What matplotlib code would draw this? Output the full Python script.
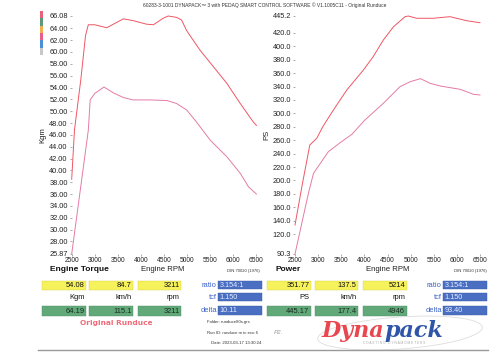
import matplotlib
matplotlib.use("Agg")
import matplotlib.pyplot as plt
from matplotlib.patches import Rectangle, Ellipse

plt.rcParams['font.family'] = ['Liberation Sans', 'DejaVu Sans']

# ---------------- data ----------------
rpm_ticks = [2500, 3000, 3500, 4000, 4500, 5000, 5500, 6000, 6500]

torque_hi_rpm = [2500, 2560, 2700, 2800, 2860, 3000, 3100, 3260, 3450, 3620, 3830, 4120, 4270,
                 4480, 4590, 4770, 4880, 4990, 5130, 5280, 5570, 5860, 6150, 6430, 6500]
torque_hi = [38.5, 46.8, 55.5, 62.8, 64.6, 64.6, 64.4, 64.1, 64.9, 65.6, 65.3, 64.7, 64.6,
             65.7, 66.08, 65.85, 65.4, 63.6, 62.0, 60.3, 57.5, 54.7, 51.3, 48.2, 47.6]

torque_lo_rpm = [2500, 2700, 2860, 2900, 3000, 3200, 3400, 3620, 3830, 4200, 4560, 4770, 4990,
                 5200, 5500, 5860, 6150, 6330, 6500]
torque_lo = [25.87, 37.5, 46.8, 51.9, 53.0, 54.08, 53.1, 52.3, 51.9, 51.9, 51.8, 51.3, 50.2,
             48.2, 45.1, 42.3, 39.5, 37.2, 36.0]

power_hi_rpm = [2500, 2660, 2820, 2970, 3100, 3330, 3620, 3980, 4190, 4410, 4630, 4880, 4950,
                5130, 5490, 5850, 6210, 6500]
power_hi = [133.5, 195.0, 252.8, 262.8, 280.0, 305.0, 334.9, 364.7, 384.5, 409.4, 429.2, 444.2,
            445.2, 441.8, 441.8, 444.2, 438.2, 435.2]

power_lo_rpm = [2500, 2790, 2900, 3220, 3470, 3730, 4010, 4410, 4770, 4990, 5214, 5420, 5640,
                6070, 6360, 6500]
power_lo = [90.3, 180.8, 210.6, 242.8, 256.0, 268.8, 290.0, 315.0, 339.8, 347.2, 351.77, 344.8,
            340.8, 335.9, 328.4, 327.4]

torque_yticks = [25.87, 28, 30, 32, 34, 36, 38, 40, 42, 44, 46, 48, 50, 52, 54, 56, 58, 60, 62, 64, 66.08]
power_yticks = [90.3, 120, 140, 160, 180, 200, 220, 240, 260, 280, 300, 320, 340, 360, 380, 400, 420, 445.2]

torque_box_yellow = ["54.08", "84.7", "3211"]
torque_box_green = ["64.19", "115.1", "3211"]
power_box_yellow = ["351.77", "137.5", "5214"]
power_box_green = ["445.17", "177.4", "4946"]
box_units_torque = ["Kgm", "km/h", "rpm"]
box_units_power = ["PS", "km/h", "rpm"]
info_labels = ["ratio", "tcf", "delta"]
info_torque = ["3.154:1", "1.150", "10.11"]
info_power = ["3.154:1", "1.150", "93.40"]

header = "60283-3-1001 DYNAPACK\u2122 3 with PEDAQ SMART CONTROL SOFTWARE \u00a9 V1.1005C11 - Original Runduce"

HI = '#ef5664'
LO = '#e47ba6'
YEL = '#f6f25c'
GRN = '#62a97a'
BLU = '#4a6fc2'
LBL = '#3d63c8'

W, H = 500, 354
fig = plt.figure(figsize=(5, 3.54), dpi=100)


def fx(px):
    return px / W


def fy(py):
    return 1 - py / H


def make_axes(x0, x1, y0, y1):
    ax = fig.add_axes([fx(x0), fy(y1), fx(x1) - fx(x0), fy(y0) - fy(y1)])
    for s in ax.spines.values():
        s.set_visible(False)
    ax.patch.set_alpha(0)
    ax.tick_params(axis='both', length=1.6, width=0.5, color='#888888', labelcolor='#222222')
    ax.tick_params(axis='y', labelsize=5.3, pad=1.2)
    ax.tick_params(axis='x', labelsize=4.8, pad=0.6)
    return ax


# torque axes
ax1 = make_axes(71.7, 256.4, 16, 254)
ax1.plot(torque_hi_rpm, torque_hi, color=HI, lw=0.7, clip_on=False)
ax1.plot(torque_lo_rpm, torque_lo, color=LO, lw=0.7, clip_on=False)
ax1.set_xlim(2500, 6500)
ax1.set_ylim(25.87, 66.08)
ax1.set_xticks(rpm_ticks)
ax1.set_xticklabels([str(v) for v in rpm_ticks])
ax1.set_yticks(torque_yticks)
ax1.set_yticklabels(['%.2f' % v for v in torque_yticks])
ax1.set_ylabel('Kgm', fontsize=5.5, color='#222222')
ax1.yaxis.set_label_coords(-0.135, 0.5)

# power axes
ax2 = make_axes(295, 480, 16, 254)
ax2.plot(power_hi_rpm, power_hi, color=HI, lw=0.7, clip_on=False)
ax2.plot(power_lo_rpm, power_lo, color=LO, lw=0.7, clip_on=False)
ax2.set_xlim(2500, 6500)
ax2.set_ylim(90.3, 445.2)
ax2.set_xticks(rpm_ticks)
ax2.set_xticklabels([str(v) for v in rpm_ticks])
ax2.set_yticks(power_yticks)
ax2.set_yticklabels(['%.1f' % v for v in power_yticks])
ax2.set_ylabel('PS', fontsize=5.5, color='#222222')
ax2.yaxis.set_label_coords(-0.135, 0.5)

# overlay in pixel coordinates
ov = fig.add_axes([0, 0, 1, 1])
ov.set_xlim(0, W)
ov.set_ylim(H, 0)
ov.axis('off')
ov.patch.set_alpha(0)

ov.text(265, 5.5, header, fontsize=3.5, ha='center', va='center', color='#333333')

# colour strip
strip_colors = ['#e8607a', '#5a9a78', '#f0b050', '#e8608a', '#4a90d8', '#c8c8c8']
seg = (55 - 11) / len(strip_colors)
for i, c in enumerate(strip_colors):
    ov.add_patch(Rectangle((40, 11 + i * seg), 2.6, seg, color=c, lw=0))

# titles under charts
ov.text(50, 269.5, 'Engine Torque', fontsize=6, fontweight='bold', ha='left', va='center', color='#111111')
ov.text(162.5, 269.5, 'Engine RPM', fontsize=5.6, ha='center', va='center', color='#222222')
ov.text(243.5, 271, 'DIN 70020 (1976)', fontsize=3.0, ha='center', va='center', color='#333333')
ov.text(275, 269.5, 'Power', fontsize=6, fontweight='bold', ha='left', va='center', color='#111111')
ov.text(388, 269.5, 'Engine RPM', fontsize=5.6, ha='center', va='center', color='#222222')
ov.text(470, 271, 'DIN 70020 (1976)', fontsize=3.0, ha='center', va='center', color='#333333')

row_y = [(281, 290), (306, 315.5)]
units_y = 297.5


def value_boxes(xs, yellow, green, units):
    for (x0, x1), yv, gv, u in zip(xs, yellow, green, units):
        ov.add_patch(Rectangle((x0, row_y[0][0]), x1 - x0, row_y[0][1] - row_y[0][0],
                               facecolor=YEL, edgecolor='#d8d040', lw=0.3))
        ov.text(x1 - 1.5, (row_y[0][0] + row_y[0][1]) / 2 + 0.3, yv, fontsize=5.4,
                ha='right', va='center', color='#111111')
        ov.add_patch(Rectangle((x0, row_y[1][0]), x1 - x0, row_y[1][1] - row_y[1][0],
                               facecolor=GRN, edgecolor='#4f9066', lw=0.3))
        ov.text(x1 - 1.5, (row_y[1][0] + row_y[1][1]) / 2 + 0.3, gv, fontsize=5.4,
                ha='right', va='center', color='#1a2a1e')
        ov.text(x1 - 1.5, units_y, u, fontsize=5.4, ha='right', va='center', color='#111111')


value_boxes([(41.7, 86), (89.3, 133.3), (137.7, 181)], torque_box_yellow, torque_box_green, box_units_torque)
value_boxes([(267.3, 311), (315, 358.3), (363.3, 406.7)], power_box_yellow, power_box_green, box_units_power)

info_rows = [(281, 289), (293.3, 301.3), (306.3, 314.5)]


def info_boxes(x0, x1, values):
    for (y0, y1), lab, v in zip(info_rows, info_labels, values):
        ov.add_patch(Rectangle((x0, y0), x1 - x0, y1 - y0, facecolor=BLU, edgecolor='#3558a8', lw=0.3))
        ov.text(x0 - 1.5, (y0 + y1) / 2 + 0.3, lab, fontsize=5.4, ha='right', va='center', color=LBL)
        ov.text(x0 + 1.2, (y0 + y1) / 2 + 0.3, v, fontsize=5.2, ha='left', va='center', color='#e4ecff')


info_boxes(218.3, 261.7, info_torque)
info_boxes(443.3, 487.3, info_power)

# run information
ov.text(116.5, 322.8, 'Original Runduce', fontsize=5.3, fontweight='bold', ha='center', va='center',
        color='#f06a78', family=['DejaVu Sans'])
ov.text(207, 322.5, 'Folder: runduce80s.grs', fontsize=3.1, ha='left', va='center', color='#333333')
ov.text(207, 332.5, 'Run ID: runduce m tc ecu 6', fontsize=3.1, ha='left', va='center', color='#333333')
ov.text(211, 343, 'Date: 2023-03-17 13:30:24', fontsize=3.1, ha='left', va='center', color='#333333')
ov.text(278, 332, 'P2.', fontsize=4.5, ha='center', va='center', color='#999999', style='italic')

# logo
ov.add_patch(Ellipse((400, 333), 165, 32, angle=-4, fill=False, edgecolor='#dddddd', lw=0.6))
t1 = ov.text(322, 337.5, 'Dyna', fontsize=16, fontweight='bold', style='italic', ha='left',
             va='baseline', color='#e8474f', family=['DejaVu Serif'])
ov.annotate('pack', xy=(1, 0), xycoords=t1, fontsize=16, fontweight='bold', style='italic',
            ha='left', va='bottom', color='#2f55a8', family=['DejaVu Serif'])
ov.text(394, 343.5, 'C O A S T I N G   D Y N A M O M E T E R S', fontsize=2.3, ha='center',
        va='center', color='#aaaaaa')

ov.plot([38, 488], [350, 350], color='#9a9a9a', lw=1.0)

fig.savefig('out.png', dpi=100)
